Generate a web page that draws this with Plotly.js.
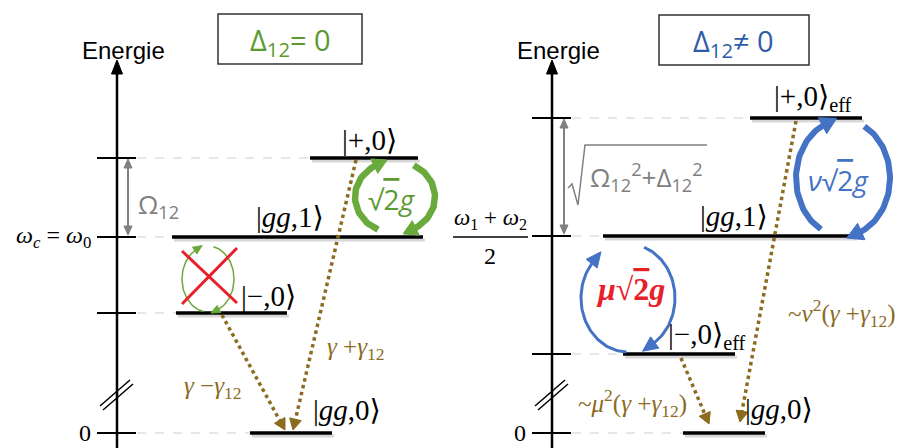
<!DOCTYPE html>
<html><head><meta charset="utf-8">
<script src="https://cdn.plot.ly/plotly-3.0.1.min.js"></script>
<style>html,body{margin:0;padding:0;background:#fff}</style>
</head><body><div id="chart" style="width:904px;height:448px"></div>
<script>
// ---------- DATA ----------
// Left panel (Δ12 = 0): energy levels (arbitrary units, 0 = |gg,0>)
const leftLevelNames  = ['|<i>gg</i>,0⟩', '|−,0⟩', '|<i>gg</i>,1⟩', '|+,0⟩'];
const leftLevelEnergy = [0, 120, 196, 275];
const leftLevelStart  = [250, 176, 172, 310];
const leftLevelEnd    = [332, 287, 423, 418];
const leftTickLabels  = ['0', '', '<i>ω<sub>c</sub></i> = <i>ω</i><sub>0</sub>', ''];
// Right panel (Δ12 ≠ 0)
const rightLevelNames  = ['|<i>gg</i>,0⟩', '|−,0⟩<sub>eff</sub>', '|<i>gg</i>,1⟩', '|+,0⟩<sub>eff</sub>'];
const rightLevelEnergy = [0, 79, 197, 315];
const rightLevelStart  = [683, 623, 603, 750];
const rightLevelEnd    = [765, 735, 855, 862];
const rightTickLabels  = ['0', '', '', ''];
// Decay rate labels
const leftDecayLabels  = ['<i>γ</i> −<i>γ</i><sub>12</sub>', '<i>γ</i> +<i>γ</i><sub>12</sub>'];
const rightDecayLabels = ['~<i>μ</i><sup>2</sup>(<i>γ</i> +<i>γ</i><sub>12</sub>)', '~<i>ν</i><sup>2</sup>(<i>γ</i> +<i>γ</i><sub>12</sub>)'];
const panelTitles = ['Δ<sub>12</sub>= 0', 'Δ<sub>12</sub>≠ 0'];

// ---------- STYLE ----------
const GREEN = '#6aaa3c', GREENTXT = '#5b9a32', BLUE = '#4472c4', BLUETXT = '#2f5ca8';
const BROWN = '#8b6b1f', GRAY = '#808080', RED = '#e8202a';
const SERIF = 'Liberation Serif, DejaVu Serif, serif';
const SANS = 'Liberation Sans, Arial, sans-serif';
const CAL = 'Open Sans, Noto Sans, sans-serif';
const Y0 = 433;                 // y pixel of energy 0
const Y = py => Y0 - py;        // pixel -> energy
const P = e => Y0 - e;          // energy -> pixel

const traces = [], annotations = [], shapes = [];
function addLine(xs, pys, color, width, dash, opacity) {
  traces.push({type:'scatter', mode:'lines', x:xs, y:pys.map(Y),
    line:{color:color, width:width, dash:dash||'solid'}, opacity:opacity==null?1:opacity, hoverinfo:'skip'});
}
function addHead(tx, ty, dx, dy, L, W, color) {
  const n = Math.hypot(dx, dy); dx /= n; dy /= n;
  const bx = tx - L*dx, by = ty - L*dy, qx = -dy, qy = dx;
  traces.push({type:'scatter', mode:'lines', x:[tx, bx+W*qx, bx-W*qx, tx],
    y:[ty, by+W*qy, by-W*qy, ty].map(Y), fill:'toself', fillcolor:color,
    line:{color:color, width:1}, hoverinfo:'skip'});
}
function addArrow(x0, y0, x1, y1, color, width, dash, L, W) {
  const dx = x1-x0, dy = y1-y0, n = Math.hypot(dx, dy);
  addLine([x0, x1 - 0.8*L*dx/n], [y0, y1 - 0.8*L*dy/n], color, width, dash);
  addHead(x1, y1, dx, dy, L, W, color);
}
function addArc(cx, cy, rx, ry, a0, a1, color, width, L, W) {
  const n = 50, xs = [], ys = [];
  for (let i = 0; i <= n; i++) {
    const a = (a0 + (a1-a0)*i/n) * Math.PI/180;
    xs.push(cx + rx*Math.cos(a)); ys.push(cy - ry*Math.sin(a));
  }
  addLine(xs, ys, color, width);
  if (L) {
    const a = a1*Math.PI/180, s = Math.sign(a1-a0);
    const dx = -rx*Math.sin(a)*s, dy = -ry*Math.cos(a)*s, nn = Math.hypot(dx, dy);
    addHead(xs[n] + 0.85*L*dx/nn, ys[n] + 0.85*L*dy/nn, dx, dy, L, W, color);
  }
}
function txt(x, py, text, size, color, family, xanchor, extra) {
  annotations.push(Object.assign({x:x, y:Y(py), xref:'x', yref:'y', text:text, showarrow:false,
    font:{size:size, color:color, family:family}, xanchor:xanchor||'center', yanchor:'middle'}, extra||{}));
}

// ---------- PANELS ----------
function panel(axX, names, energy, xs, xe, ticks) {
  addLine([axX, axX], [448, 72], '#000', 2.5);
  addHead(axX, 60, 0, -1, 14, 5.5, '#000');
  txt(axX + 6, 50, 'Energie', 24, '#000', SANS);
  for (let i = 0; i < energy.length; i++) {
    const py = P(energy[i]);
    addLine([axX - 20, axX + 19], [py, py], '#000', 1.8);
    addLine([axX + 20, xs[i]], [py, py], '#cfcfcf', 1, 'dash');
    addLine([xs[i] + 2, xe[i] + 2], [py + 3, py + 3], '#b0b0b0', 3, 'solid', 0.5);
    addLine([xs[i], xe[i]], [py, py], '#000', 3.5);
    if (ticks[i]) txt(axX - 24, py, ticks[i], 24, '#000', SERIF, 'right');
  }
  addLine([axX - 17, axX + 13], [406, 380], '#000', 1.5);
  addLine([axX - 14, axX + 16], [410, 384], '#000', 1.5);
}
panel(117, leftLevelNames, leftLevelEnergy, leftLevelStart, leftLevelEnd, leftTickLabels);
panel(552, rightLevelNames, rightLevelEnergy, rightLevelStart, rightLevelEnd, rightTickLabels);

// ---------- LEFT PANEL DETAILS ----------
addLine([128, 128], [P(leftLevelEnergy[3]) + 8, P(leftLevelEnergy[2]) - 8], GRAY, 2);
addHead(128, P(leftLevelEnergy[3]) + 1, 0, -1, 9, 4, GRAY);
addHead(128, P(leftLevelEnergy[2]) - 2, 0, 1, 9, 4, GRAY);
txt(158, 205, 'Ω<sub>12</sub>', 26, GRAY, CAL);
txt(290, 217, leftLevelNames[2], 29, '#000', SERIF);
txt(369, 140, leftLevelNames[3], 29, '#000', SERIF);
txt(268, 296, leftLevelNames[1], 29, '#000', SERIF);
txt(347, 410, leftLevelNames[0], 29, '#000', SERIF);
addArc(395, 197, 40, 36, 245, 118, GREEN, 6.5, 14, 8);
addArc(395, 197, 40, 36, 62, -62, GREEN, 6.5, 14, 8);
txt(391, 199, '√<span style="text-decoration:overline">2</span><i>g</i>', 28, GREENTXT, CAL);
addArc(208, 279, 26, 33, -100, -242, GREEN, 1.5, 9, 4);
addArc(208, 279, 26, 33, 78, -68, GREEN, 1.5, 9, 4);
addLine([182, 237], [304, 248], RED, 3);
addLine([182, 237], [251, 303], RED, 3);
addArrow(222, 315, 285, 430, BROWN, 3.5, 'dot', 11, 6);
addArrow(356, 160, 293, 430, BROWN, 3.5, 'dot', 11, 6);
txt(213, 387, leftDecayLabels[0], 25, BROWN, SERIF);
txt(356, 348, leftDecayLabels[1], 25, BROWN, SERIF);
shapes.push({type:'rect', xref:'x', yref:'y', x0:218, x1:362, y0:Y(14), y1:Y(64), line:{color:'#333', width:1.5}});
txt(290, 41, panelTitles[0], 29, GREENTXT, CAL);

// ---------- RIGHT PANEL DETAILS ----------
addLine([564, 564], [P(rightLevelEnergy[3]) + 8, P(rightLevelEnergy[2]) - 8], GRAY, 2);
addHead(564, P(rightLevelEnergy[3]) + 1, 0, -1, 9, 4, GRAY);
addHead(564, P(rightLevelEnergy[2]) - 2, 0, 1, 9, 4, GRAY);
addLine([568, 572, 578, 585, 707], [188, 184, 205, 145, 145], GRAY, 1.5);
txt(588, 177, 'Ω<sub>12</sub><sup>2</sup>+Δ<sub>12</sub><sup>2</sup>', 26, GRAY, CAL, 'left');
txt(490, 219, '<i>ω</i><sub>1</sub> + <i>ω</i><sub>2</sub>', 23, '#000', SERIF);
addLine([453, 528], [237, 237], '#000', 1.3);
txt(490, 256, '2', 24, '#000', SERIF);
txt(734, 216, rightLevelNames[2], 29, '#000', SERIF);
txt(772, 98, rightLevelNames[3], 29, '#000', SERIF, 'left');
txt(666, 336, rightLevelNames[1], 29, '#000', SERIF, 'left');
txt(743, 409, rightLevelNames[0], 29, '#000', SERIF, 'left');
addArc(843, 178, 47, 58, -118, -247, BLUE, 6, 16, 9);
addArc(843, 178, 47, 58, 63, -70, BLUE, 6, 16, 9);
txt(838, 180, '<i>ν</i>√<span style="text-decoration:overline">2</span><i>g</i>', 28, BLUE, CAL);
addArc(628, 298, 47, 54, -92, -222, BLUE, 3, 15, 7);
addArc(628, 298, 47, 54, 70, -58, BLUE, 3, 15, 7);
txt(630, 289, '<b><i>μ</i>√<span style="text-decoration:overline">2</span><i>g</i></b>', 32, RED, SERIF);
addArrow(796, 121, 740, 422, BROWN, 3.5, 'dot', 11, 6);
addArrow(681, 358, 709, 424, BROWN, 3.5, 'dot', 11, 6);
txt(632, 403, rightDecayLabels[0], 25, BROWN, SERIF);
txt(842, 313, rightDecayLabels[1], 25, BROWN, SERIF);
shapes.push({type:'rect', xref:'x', yref:'y', x0:659, x1:809, y0:Y(15), y1:Y(65), line:{color:'#333', width:1.5}});
txt(733, 42, panelTitles[1], 29, BLUETXT, CAL);

const layout = {
  width:904, height:448, margin:{l:0, r:0, t:0, b:0},
  paper_bgcolor:'#fff', plot_bgcolor:'#fff', showlegend:false,
  xaxis:{range:[0, 904], visible:false, fixedrange:true},
  yaxis:{range:[Y(448), Y(0)], visible:false, fixedrange:true},
  annotations:annotations, shapes:shapes
};
Plotly.newPlot('chart', traces, layout, {staticPlot:true});
</script></body></html>
